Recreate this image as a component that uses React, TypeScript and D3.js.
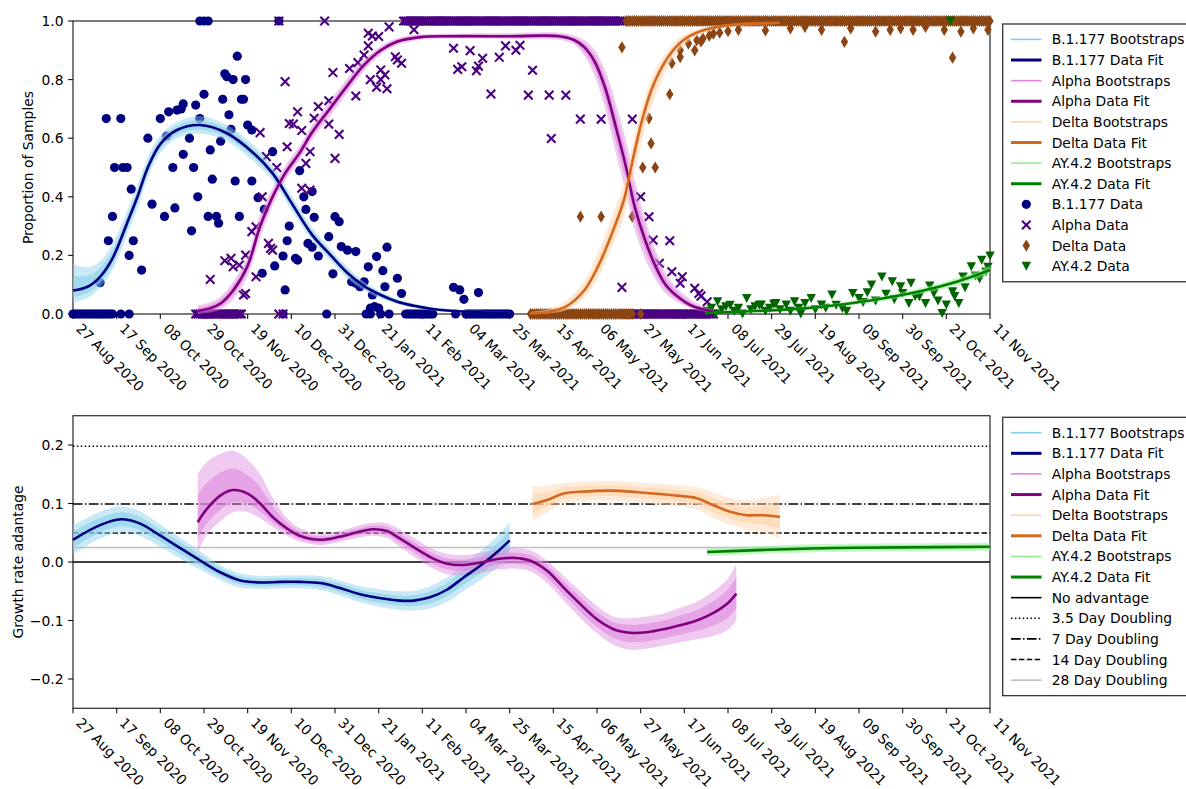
import React from "react";
import * as d3 from "d3";

type P = [number, number];
type Row = [number, number, number, number]; // day, fit, low, high

// ---------- time axis ----------
const START = Date.UTC(2020, 7, 27);
const END = Date.UTC(2021, 10, 11);
const toDate = (d: number) => new Date(START + d * 86400000);

const tickLabels = [
  "27 Aug 2020", "17 Sep 2020", "08 Oct 2020", "29 Oct 2020", "19 Nov 2020", "10 Dec 2020",
  "31 Dec 2020", "21 Jan 2021", "11 Feb 2021", "04 Mar 2021", "25 Mar 2021", "15 Apr 2021",
  "06 May 2021", "27 May 2021", "17 Jun 2021", "08 Jul 2021", "29 Jul 2021", "19 Aug 2021",
  "09 Sep 2021", "30 Sep 2021", "21 Oct 2021", "11 Nov 2021",
];
const topYTicks = [0, 0.2, 0.4, 0.6, 0.8, 1.0];
const topYLabels = ["0.0", "0.2", "0.4", "0.6", "0.8", "1.0"];
const botYTicks = [-0.2, -0.1, 0, 0.1, 0.2];
const botYLabels = ["\u22120.2", "\u22120.1", "0.0", "0.1", "0.2"];

// ---------- proportion fits (day, fit, bootstrap low, bootstrap high) ----------
const b177Prop: Row[] = [
  [0, 0.08, 0.04, 0.17], [7, 0.093, 0.055, 0.16], [13, 0.127, 0.09, 0.18], [19, 0.19, 0.15, 0.24],
  [26, 0.31, 0.27, 0.35], [31, 0.40, 0.36, 0.44], [36, 0.50, 0.465, 0.535], [42, 0.58, 0.55, 0.61],
  [50, 0.628, 0.6, 0.655], [61, 0.645, 0.615, 0.675], [74, 0.617, 0.59, 0.645], [87, 0.548, 0.52, 0.575],
  [96, 0.48, 0.455, 0.505], [105, 0.38, 0.355, 0.405], [115, 0.27, 0.25, 0.295], [124, 0.2, 0.18, 0.22],
  [132, 0.14, 0.12, 0.16], [140, 0.095, 0.08, 0.11], [148, 0.065, 0.052, 0.078], [156, 0.042, 0.033, 0.052],
  [164, 0.028, 0.02, 0.036], [172, 0.018, 0.012, 0.025], [180, 0.012, 0.007, 0.018], [196, 0.006, 0.003, 0.011],
  [210, 0.004, 0.002, 0.008],
];
const alphaProp: Row[] = [
  [60, 0.01, 0.0, 0.03], [66, 0.02, 0.005, 0.04], [71, 0.036, 0.015, 0.06], [77, 0.08, 0.05, 0.11],
  [84, 0.165, 0.13, 0.2], [90, 0.3, 0.26, 0.34], [96, 0.4, 0.37, 0.43], [102, 0.48, 0.455, 0.505],
  [109, 0.55, 0.525, 0.575], [115, 0.62, 0.595, 0.645], [124, 0.705, 0.68, 0.73], [132, 0.78, 0.755, 0.805],
  [140, 0.85, 0.83, 0.87], [148, 0.9, 0.885, 0.915], [156, 0.93, 0.918, 0.942], [167, 0.945, 0.935, 0.955],
  [180, 0.948, 0.94, 0.957], [210, 0.948, 0.938, 0.958], [234, 0.948, 0.935, 0.96], [241, 0.935, 0.92, 0.95],
  [246, 0.91, 0.88, 0.935], [251, 0.86, 0.81, 0.9], [256, 0.77, 0.7, 0.83], [261, 0.64, 0.55, 0.72],
  [266, 0.5, 0.41, 0.59], [270, 0.37, 0.29, 0.46], [275, 0.255, 0.19, 0.33], [280, 0.165, 0.12, 0.22],
  [285, 0.1, 0.07, 0.14], [291, 0.058, 0.04, 0.085], [297, 0.03, 0.02, 0.05], [302, 0.018, 0.01, 0.03],
  [308, 0.008, 0.004, 0.015],
];
const deltaProp: Row[] = [
  [220, 0.002, 0.0, 0.008], [229, 0.008, 0.002, 0.018], [237, 0.025, 0.012, 0.045], [246, 0.082, 0.055, 0.115],
  [253, 0.17, 0.13, 0.22], [260, 0.29, 0.24, 0.35], [265, 0.39, 0.33, 0.45], [269, 0.52, 0.45, 0.58],
  [274, 0.67, 0.6, 0.72], [279, 0.78, 0.72, 0.82], [286, 0.875, 0.84, 0.9], [293, 0.932, 0.91, 0.95],
  [302, 0.966, 0.955, 0.975], [316, 0.986, 0.98, 0.99], [340, 0.994, 0.99, 0.997],
];
const ay42Prop: Row[] = [
  [304, 0.003, 0.001, 0.006], [320, 0.008, 0.005, 0.012], [353, 0.02, 0.015, 0.026], [385, 0.048, 0.04, 0.056],
  [409, 0.08, 0.07, 0.092], [425, 0.11, 0.097, 0.123], [441, 0.15, 0.135, 0.165],
];

// ---------- growth-rate advantage (day, fit, bootstrap low, bootstrap high) ----------
const b177Growth: Row[] = [
  [0, 0.038, 0.013, 0.063], [13, 0.063, 0.04, 0.086], [23, 0.073, 0.051, 0.095], [32, 0.066, 0.045, 0.087],
  [42, 0.045, 0.026, 0.064], [51, 0.025, 0.007, 0.043], [61, 0.003, -0.013, 0.019], [71, -0.018, -0.031, -0.005],
  [80, -0.031, -0.043, -0.019], [90, -0.035, -0.046, -0.024], [100, -0.034, -0.045, -0.023], [109, -0.034, -0.045, -0.023],
  [119, -0.036, -0.048, -0.024], [128, -0.044, -0.057, -0.031], [138, -0.055, -0.069, -0.041], [148, -0.062, -0.077, -0.047],
  [157, -0.066, -0.082, -0.05], [164, -0.066, -0.083, -0.049], [172, -0.06, -0.079, -0.041], [180, -0.047, -0.068, -0.026],
  [188, -0.026, -0.049, -0.003], [196, -0.006, -0.031, 0.019], [204, 0.017, -0.01, 0.044], [210, 0.037, 0.007, 0.068],
];
const alphaGrowth: Row[] = [
  [60, 0.068, 0.015, 0.15], [64, 0.089, 0.045, 0.17], [71, 0.114, 0.07, 0.185], [77, 0.123, 0.085, 0.19],
  [84, 0.117, 0.085, 0.175], [90, 0.1, 0.075, 0.15], [96, 0.077, 0.06, 0.11], [103, 0.057, 0.045, 0.075],
  [109, 0.045, 0.035, 0.058], [119, 0.038, 0.029, 0.048], [128, 0.043, 0.034, 0.053], [138, 0.052, 0.042, 0.063],
  [144, 0.056, 0.045, 0.067], [151, 0.053, 0.041, 0.066], [156, 0.043, 0.029, 0.058], [164, 0.025, 0.009, 0.041],
  [172, 0.008, -0.009, 0.024], [180, -0.003, -0.021, 0.014], [188, -0.005, -0.023, 0.012], [196, -0.001, -0.019, 0.016],
  [204, 0.005, -0.013, 0.022], [212, 0.007, -0.011, 0.024], [220, 0.002, -0.016, 0.02], [228, -0.015, -0.036, 0.002],
  [236, -0.044, -0.066, -0.024], [244, -0.072, -0.096, -0.05], [252, -0.098, -0.122, -0.075], [260, -0.115, -0.142, -0.093],
  [268, -0.121, -0.15, -0.096], [276, -0.12, -0.148, -0.093], [284, -0.115, -0.143, -0.088], [292, -0.108, -0.137, -0.078],
  [300, -0.1, -0.132, -0.068], [308, -0.087, -0.126, -0.05], [315, -0.07, -0.116, -0.028], [319, -0.054, -0.1, -0.003],
];
const deltaGrowth: Row[] = [
  [221, 0.099, 0.07, 0.13], [228, 0.106, 0.085, 0.13], [236, 0.117, 0.1, 0.135], [244, 0.12, 0.104, 0.137],
  [260, 0.122, 0.105, 0.138], [276, 0.118, 0.1, 0.135], [292, 0.113, 0.095, 0.131], [300, 0.109, 0.09, 0.128],
  [308, 0.097, 0.075, 0.119], [316, 0.086, 0.064, 0.11], [324, 0.08, 0.055, 0.106], [332, 0.08, 0.05, 0.11],
  [340, 0.077, 0.04, 0.115],
];
const ay42Growth: Row[] = [
  [305, 0.017, 0.01, 0.024], [334, 0.021, 0.014, 0.028], [366, 0.024, 0.017, 0.031], [398, 0.025, 0.018, 0.032],
  [441, 0.026, 0.019, 0.033],
];
const doublingRates = [0.198, 0.099, 0.0495, 0.0248];

// ---------- observed daily proportions (day, value) ----------
const b177Zeros = [0, 1, 2, 3, 4, 5, 6, 7, 8, 9, 10, 11, 12, 13, 14, 15, 16, 17, 18, 19, 23, 27, 101, 122, 141, 143, 148, 152,
  160, 161, 162, 163, 164, 165, 166, 167, 168, 169, 170, 171, 172, 173, 184,
  189, 190, 191, 192, 193, 194, 195, 196, 197, 198, 199, 200, 201, 202, 203, 204, 205, 206, 207, 208, 209, 210];
const b177Points: P[] = [
  [13, 0.107], [16, 0.667], [17, 0.25], [19, 0.333], [20, 0.5], [23, 0.667], [24, 0.5], [26, 0.5], [27, 0.2], [28, 0.426],
  [29, 0.25], [33, 0.15], [36, 0.6], [38, 0.375], [42, 0.667], [44, 0.333], [45, 0.607], [46, 0.69], [48, 0.5], [49, 0.362],
  [50, 0.696], [52, 0.7], [53, 0.717], [53, 0.545], [56, 0.6], [57, 0.284], [58, 0.5], [59, 0.713], [60, 0.4], [61, 1],
  [63, 1], [65, 1], [63, 0.75], [61, 0.667], [65, 0.333], [66, 0.56], [67, 0.46], [69, 0.333], [70, 0.31], [71, 0.59],
  [72, 0.733], [73, 0.82], [74, 0.81], [77, 0.8], [75, 0.68], [76, 0.63], [78, 0.454], [79, 0.88], [80, 0.333], [81, 0.733],
  [82, 0.733], [83, 0.8], [84, 0.645], [86, 0.628], [86, 0.454], [89, 0.397], [91, 0.139], [92, 0.357], [96, 0.554], [97, 0.164],
  [99, 1], [101, 0.198], [102, 0.082], [103, 0.25], [104, 0.3], [109, 0.489], [111, 0.4], [115, 0.418], [112, 0.357], [107, 0.19],
  [108, 0.184], [116, 0.33], [113, 0.241], [115, 0.228], [118, 0.198], [126, 0.332], [128, 0.315], [123, 0.264], [125, 0.137],
  [129, 0.23], [132, 0.218], [136, 0.213], [134, 0.11], [136, 0.105], [138, 0.093], [140, 0.11], [142, 0.161], [146, 0.196],
  [149, 0.148], [151, 0.228], [156, 0.122], [150, 0.093], [144, 0.065], [158, 0.07], [143, 0.02], [145, 0.025], [147, 0.02],
  [183, 0.091], [186, 0.082], [188, 0.05], [195, 0.073],
];
const alphaZeros = [59, 60, 61, 62, 63, 64, 65, 66, 67, 68, 69, 70, 71, 72, 73, 74, 75, 76, 77, 78, 79, 80, 81, 99, 101,
  266, 267, 268, 269, 270, 271, 272, 273, 274, 275, 276, 277, 278, 279, 280, 281, 282, 283, 284, 285, 286, 287,
  288, 289, 290, 291, 292, 293, 294, 295, 296, 297, 298, 299, 300, 301, 302, 303, 304, 305, 306, 307, 308];
const alphaOnes = [99, 121, 159, 160, 161, 162, 163, 164, 165, 166, 167, 168, 169, 170, 171, 172, 173, 174, 175, 176, 177,
  178, 179, 180, 181, 182, 183, 184, 185, 186, 187, 188, 189, 190, 191, 192, 193, 194, 195, 196, 197, 198, 199, 200,
  201, 202, 203, 204, 205, 206, 207, 208, 209, 210, 211, 212, 213, 214, 215, 216, 217, 218, 219, 220, 221, 222, 223,
  224, 225, 226, 227, 228, 229, 230, 231, 232, 233, 234, 235, 236, 237, 238, 239, 240, 241, 242, 243, 244, 245, 246,
  247, 248, 249, 250, 251, 252, 253, 254, 255, 256, 257, 258, 259, 260, 261, 262, 263, 264];
const alphaPoints: P[] = [
  [66, 0.118], [73, 0.182], [76, 0.19], [77, 0.161], [80, 0.167], [82, 0.065], [83, 0.07], [83, 0.201], [86, 0.281], [88, 0.298],
  [88, 0.127], [90, 0.619], [91, 0.4], [93, 0.537], [94, 0.241], [95, 0.224], [96, 0.218], [98, 0.5], [102, 0.793], [103, 0.571],
  [104, 0.65], [106, 0.648], [108, 0.69], [110, 0.626], [110, 0.429], [112, 0.514], [114, 0.554], [114, 0.423], [116, 0.668],
  [118, 0.708], [123, 0.728], [123, 0.648], [125, 0.824], [126, 0.531], [128, 0.613], [133, 0.838], [136, 0.744], [137, 0.858],
  [140, 0.884], [142, 0.958], [142, 0.915], [143, 0.8], [144, 0.949], [146, 0.774], [147, 0.947], [148, 0.833], [148, 0.8],
  [150, 0.816], [151, 0.769], [152, 0.98], [155, 0.878], [156, 0.867], [158, 0.856], [164, 0.97], [183, 0.907], [185, 0.835],
  [187, 0.844], [191, 0.899], [194, 0.83], [195, 0.846], [197, 0.873], [201, 0.751], [205, 0.876], [208, 0.915], [213, 0.9],
  [215, 0.917], [219, 0.747], [221, 0.832], [229, 0.747], [230, 0.599], [237, 0.747], [244, 0.665], [254, 0.665], [264, 0.091],
  [269, 0.665], [273, 0.4], [277, 0.332], [279, 0.252], [282, 0.173], [287, 0.25], [288, 0.144], [292, 0.105], [293, 0.127],
  [299, 0.088], [301, 0.07], [302, 0.061], [305, 0.042],
];
const deltaZeros = [220, 221, 222, 223, 224, 225, 226, 227, 228, 229, 230, 231, 232, 233, 234, 235, 236, 237, 238, 239, 240,
  241, 242, 243, 244, 245, 246, 247, 248, 249, 250, 251, 252, 253, 254, 255, 256, 257, 258, 259, 260, 261, 262, 263,
  264, 265, 266, 267, 268, 269, 273];
const deltaOnes = [266, 267, 268, 269, 270, 271, 272, 273, 274, 275, 276, 277, 278, 279, 280, 281, 282, 283, 284, 285, 286,
  287, 288, 289, 290, 291, 292, 293, 294, 295, 296, 297, 298, 299, 300, 301, 302, 303, 304, 305, 306, 307, 308, 309,
  310, 311, 312, 313, 314, 315, 316, 317, 318, 319, 320, 321, 322, 323, 324, 325, 326, 327, 328, 329, 330, 331, 332,
  333, 334, 335, 336, 337, 338, 339, 340, 341, 342, 343, 344, 345, 346, 347, 348, 349, 350, 351, 352, 353, 354, 355,
  356, 357, 358, 359, 360, 361, 362, 363, 364, 365, 366, 367, 368, 369, 370, 371, 372, 373, 374, 375, 376, 377, 378,
  379, 380, 381, 382, 383, 384, 385, 386, 387, 388, 389, 390, 391, 392, 393, 394, 395, 396, 397, 398, 399, 400, 401,
  402, 403, 404, 405, 406, 407, 408, 409, 410, 411, 412, 413, 414, 415, 416, 417, 418, 419, 420, 421, 422, 423, 424,
  425, 426, 427, 428, 429, 430, 431, 432, 433, 434, 435, 436, 437, 438, 439, 440, 441];
const deltaPoints: P[] = [
  [244, 0.332], [254, 0.332], [264, 0.91], [269, 0.332], [274, 0.5], [277, 0.668], [278, 0.582], [280, 0.5], [287, 0.75],
  [288, 0.856], [292, 0.877], [292, 0.9], [296, 0.923], [299, 0.9], [300, 0.934], [302, 0.93], [303, 0.94], [306, 0.95],
  [308, 0.957], [311, 0.96], [315, 0.965], [320, 0.97], [333, 0.968], [345, 0.975], [352, 0.98], [360, 0.97], [371, 0.929],
  [374, 0.975], [386, 0.964], [393, 0.97], [398, 0.975], [404, 0.97], [410, 0.98], [419, 0.97], [423, 0.875], [427, 0.964],
  [433, 0.975], [440, 0.97],
];
const ay42Points: P[] = [
  [305, 0.01], [307, 0.02], [309, 0.0], [310, 0.042], [312, 0.015], [314, 0.025], [316, 0.03], [318, 0.01], [320, 0.02],
  [322, 0.0], [324, 0.053], [326, 0.015], [328, 0.025], [330, 0.03], [331, 0.031], [333, 0.01], [335, 0.02], [337, 0.034],
  [338, 0.036], [340, 0.015], [343, 0.031], [345, 0.01], [347, 0.042], [349, 0.02], [350, 0.0], [352, 0.036], [355, 0.053],
  [357, 0.015], [360, 0.031], [362, 0.02], [365, 0.065], [367, 0.03], [370, 0.019], [372, 0.01], [375, 0.07], [378, 0.053],
  [380, 0.04], [382, 0.073], [384, 0.099], [386, 0.045], [389, 0.127], [391, 0.068], [394, 0.11], [395, 0.05], [398, 0.093],
  [399, 0.07], [402, 0.036], [403, 0.105], [405, 0.06], [407, 0.059], [410, 0.036], [412, 0.096], [414, 0.07], [416, 0.045],
  [418, 0.002], [420, 0.031], [422, 1.0], [423, 0.076], [424, 0.06], [426, 0.036], [428, 0.127], [429, 0.09], [432, 0.162],
  [434, 0.13], [436, 0.12], [437, 0.184], [439, 0.144], [440, 0.16], [441, 0.198],
];

const topLegendLabels = [
  "B.1.177 Bootstraps", "B.1.177 Data Fit", "Alpha Bootstraps", "Alpha Data Fit", "Delta Bootstraps", "Delta Data Fit",
  "AY.4.2 Bootstraps", "AY.4.2 Data Fit", "B.1.177 Data", "Alpha Data", "Delta Data", "AY.4.2 Data",
];
const botLegendLabels = [
  "B.1.177 Bootstraps", "B.1.177 Data Fit", "Alpha Bootstraps", "Alpha Data Fit", "Delta Bootstraps", "Delta Data Fit",
  "AY.4.2 Bootstraps", "AY.4.2 Data Fit", "No advantage", "3.5 Day Doubling", "7 Day Doubling", "14 Day Doubling",
  "28 Day Doubling",
];

// ---------- styling ----------
const C = {
  b177Boot: "#87ceeb", b177Fit: "#000080", b177Data: "#000080",
  alphaBoot: "#dd88dd", alphaFit: "#800080", alphaData: "#4b0082",
  deltaBoot: "#ffd3ad", deltaFit: "#d2691e", deltaData: "#8b4513",
  ayBoot: "#90ee90", ayFit: "#008000", ayData: "#006400",
};
const FONT = "'DejaVu Sans', sans-serif";
const FS = 13.89;
const X0 = 73, X1 = 990;
const TOP = { y0: 314, y1: 21 };
const BOT = { y0: 708.25, y1: 415.75 };

const x = d3.scaleUtc().domain([new Date(START), new Date(END)]).range([X0, X1]);
const yT = d3.scaleLinear().domain([0, 1]).range([TOP.y0, TOP.y1]);
const yB = d3.scaleLinear().domain([-0.25, 0.25]).range([BOT.y0, BOT.y1]);
const parseTick = d3.utcParse("%d %b %Y");
const tickDates = tickLabels.map((t) => parseTick(t) as Date);
const curve = d3.curveCatmullRom.alpha(0.5);

const markerPath = {
  x: "M-4.3,-4.3L4.3,4.3M-4.3,4.3L4.3,-4.3",
  d: "M0,-6.1L3.7,0L0,6.1L-3.7,0Z",
  v: "M-4.7,-4.4L4.7,-4.4L0,4.6Z",
};
const R = 4.6;

function Band({ rows, y, color }: { rows: Row[]; y: d3.ScaleLinear<number, number>; color: string }) {
  const outer = d3.area<Row>().x((r) => x(toDate(r[0]))).y0((r) => y(r[2])).y1((r) => y(r[3])).curve(curve);
  const inner = d3.area<Row>().x((r) => x(toDate(r[0])))
    .y0((r) => y(r[1] - (r[1] - r[2]) * 0.55)).y1((r) => y(r[1] + (r[3] - r[1]) * 0.55)).curve(curve);
  return (
    <g>
      <path d={outer(rows) || ""} fill={color} opacity={0.45} />
      <path d={inner(rows) || ""} fill={color} opacity={0.6} />
    </g>
  );
}

function Fit({ rows, y, color }: { rows: Row[]; y: d3.ScaleLinear<number, number>; color: string }) {
  const line = d3.line<Row>().x((r) => x(toDate(r[0]))).y((r) => y(r[1])).curve(curve);
  return <path d={line(rows) || ""} fill="none" stroke={color} strokeWidth={2.6} />;
}

function Marks({ pts, kind, color }: { pts: P[]; kind: "o" | "x" | "d" | "v"; color: string }) {
  return (
    <g>
      {pts.map((p, i) => {
        const cx = x(toDate(p[0]));
        const cy = yT(p[1]);
        if (kind === "o") return <circle key={i} cx={cx} cy={cy} r={R} fill={color} />;
        if (kind === "x")
          return <path key={i} d={markerPath.x} transform={`translate(${cx},${cy})`} stroke={color} strokeWidth={2.1} fill="none" />;
        return <path key={i} d={markerPath[kind]} transform={`translate(${cx},${cy})`} fill={color} />;
      })}
    </g>
  );
}

function Axes({ y, y0, y1, ticks, labels, ylabel, labelX }: any) {
  return (
    <g fontFamily={FONT} fontSize={FS} fill="#000">
      <rect x={X0} y={y1} width={X1 - X0} height={y0 - y1} fill="none" stroke="#111" strokeWidth={1.1} />
      {tickDates.map((d, i) => {
        const tx = x(d);
        return (
          <g key={i}>
            <line x1={tx} x2={tx} y1={y0} y2={y0 + 4.9} stroke="#111" strokeWidth={1.1} />
            <text transform={`translate(${tx + 2.2},${y0 + 15.5})rotate(45)`} textAnchor="start">{tickLabels[i]}</text>
          </g>
        );
      })}
      {ticks.map((t: number, i: number) => (
        <g key={i}>
          <line x1={X0 - 4.9} x2={X0} y1={y(t)} y2={y(t)} stroke="#111" strokeWidth={1.1} />
          <text x={X0 - 9.5} y={y(t)} textAnchor="end" dominantBaseline="central">{labels[i]}</text>
        </g>
      ))}
      <text transform={`translate(${labelX},${(y0 + y1) / 2})rotate(-90)`} textAnchor="middle" dominantBaseline="central">
        {ylabel}
      </text>
    </g>
  );
}

type Handle = { kind: "line" | "o" | "x" | "d" | "v"; color: string; w?: number; dash?: string };
const fitHandles: Handle[] = [
  { kind: "line", color: C.b177Boot, w: 1.6 }, { kind: "line", color: C.b177Fit, w: 3 },
  { kind: "line", color: C.alphaBoot, w: 1.6 }, { kind: "line", color: C.alphaFit, w: 3 },
  { kind: "line", color: C.deltaBoot, w: 1.6 }, { kind: "line", color: C.deltaFit, w: 3 },
  { kind: "line", color: C.ayBoot, w: 1.6 }, { kind: "line", color: C.ayFit, w: 3 },
];
const topHandles: Handle[] = [
  ...fitHandles,
  { kind: "o", color: C.b177Data }, { kind: "x", color: C.alphaData },
  { kind: "d", color: C.deltaData }, { kind: "v", color: C.ayData },
];
const botHandles: Handle[] = [
  ...fitHandles,
  { kind: "line", color: "#000", w: 1.6 },
  { kind: "line", color: "#000", w: 1.6, dash: "1.5,2.4" },
  { kind: "line", color: "#000", w: 1.6, dash: "9.6,2.4,1.5,2.4" },
  { kind: "line", color: "#000", w: 1.6, dash: "5.5,2.4" },
  { kind: "line", color: "#bfbfbf", w: 1.6 },
];

function Legend({ top, labels, handles }: { top: number; labels: string[]; handles: Handle[] }) {
  const row0 = top + 15.4;
  const step = 20.62;
  const h = labels.length * step + 10.3;
  return (
    <g fontFamily={FONT} fontSize={FS}>
      <rect x={1002.7} y={top} width={200} height={h} fill="#fff" stroke="#333" strokeWidth={1.3} />
      {labels.map((lab, i) => {
        const cy = row0 + i * step;
        const hd = handles[i];
        let g: any;
        if (hd.kind === "line")
          g = <line x1={1011} x2={1041.5} y1={cy} y2={cy} stroke={hd.color} strokeWidth={hd.w} strokeDasharray={hd.dash} />;
        else if (hd.kind === "o") g = <circle cx={1026.3} cy={cy} r={R} fill={hd.color} />;
        else if (hd.kind === "x")
          g = <path d={markerPath.x} transform={`translate(1026.3,${cy})`} stroke={hd.color} strokeWidth={2.1} fill="none" />;
        else g = <path d={markerPath[hd.kind]} transform={`translate(1026.3,${cy})`} fill={hd.color} />;
        return (
          <g key={i}>
            {g}
            <text x={1051.7} y={cy} dominantBaseline="central" fill="#000">{lab}</text>
          </g>
        );
      })}
    </g>
  );
}

const zeroOf = (days: number[]): P[] => days.map((d) => [d, 0]);
const oneOf = (days: number[]): P[] => days.map((d) => [d, 1]);

export default function App() {
  return (
    <svg width={1186} height={789} style={{ position: "absolute", left: 0, top: 0, background: "#fff" }}>
      {/* ---------- top panel ---------- */}
      <Axes y={yT} y0={TOP.y0} y1={TOP.y1} ticks={topYTicks} labels={topYLabels} ylabel="Proportion of Samples" labelX={28} />
      <Marks pts={[...b177Points, ...zeroOf(b177Zeros)]} kind="o" color={C.b177Data} />
      <Marks pts={[...alphaPoints, ...zeroOf(alphaZeros), ...oneOf(alphaOnes)]} kind="x" color={C.alphaData} />
      <Marks pts={[...deltaPoints, ...zeroOf(deltaZeros), ...oneOf(deltaOnes)]} kind="d" color={C.deltaData} />
      <Marks pts={ay42Points} kind="v" color={C.ayData} />
      <Band rows={b177Prop} y={yT} color={C.b177Boot} />
      <Band rows={alphaProp} y={yT} color={C.alphaBoot} />
      <Band rows={deltaProp} y={yT} color={C.deltaBoot} />
      <Band rows={ay42Prop} y={yT} color={C.ayBoot} />
      <Fit rows={b177Prop} y={yT} color={C.b177Fit} />
      <Fit rows={alphaProp} y={yT} color={C.alphaFit} />
      <Fit rows={deltaProp} y={yT} color={C.deltaFit} />
      <Fit rows={ay42Prop} y={yT} color={C.ayFit} />
      <Legend top={24} labels={topLegendLabels} handles={topHandles} />

      {/* ---------- bottom panel ---------- */}
      <Axes y={yB} y0={BOT.y0} y1={BOT.y1} ticks={botYTicks} labels={botYLabels} ylabel="Growth rate adantage" labelX={17.5} />
      <g>
        <line x1={X0} x2={X1} y1={yB(0)} y2={yB(0)} stroke="#000" strokeWidth={1.6} />
        <line x1={X0} x2={X1} y1={yB(doublingRates[0])} y2={yB(doublingRates[0])} stroke="#000" strokeWidth={1.5} strokeDasharray="1.5,2.4" />
        <line x1={X0} x2={X1} y1={yB(doublingRates[1])} y2={yB(doublingRates[1])} stroke="#000" strokeWidth={1.5} strokeDasharray="9.6,2.4,1.5,2.4" />
        <line x1={X0} x2={X1} y1={yB(doublingRates[2])} y2={yB(doublingRates[2])} stroke="#000" strokeWidth={1.5} strokeDasharray="5.5,2.4" />
        <line x1={X0} x2={X1} y1={yB(doublingRates[3])} y2={yB(doublingRates[3])} stroke="#bfbfbf" strokeWidth={1.5} />
      </g>
      <Band rows={b177Growth} y={yB} color={C.b177Boot} />
      <Band rows={alphaGrowth} y={yB} color={C.alphaBoot} />
      <Band rows={deltaGrowth} y={yB} color={C.deltaBoot} />
      <Band rows={ay42Growth} y={yB} color={C.ayBoot} />
      <Fit rows={b177Growth} y={yB} color={C.b177Fit} />
      <Fit rows={alphaGrowth} y={yB} color={C.alphaFit} />
      <Fit rows={deltaGrowth} y={yB} color={C.deltaFit} />
      <Fit rows={ay42Growth} y={yB} color={C.ayFit} />
      <Legend top={417.3} labels={botLegendLabels} handles={botHandles} />
    </svg>
  );
}
